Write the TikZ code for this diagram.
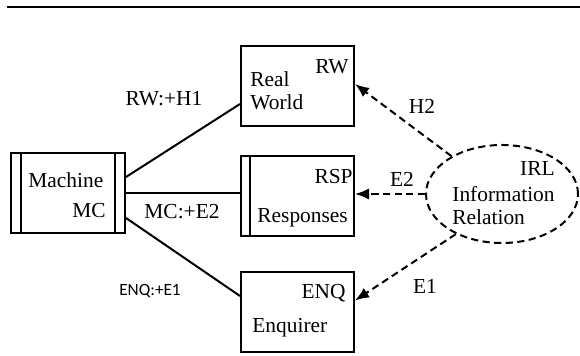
\documentclass[tikz,border=0pt]{standalone}
\usepackage{fontspec}
\setmainfont{Liberation Serif}
\newfontfamily\labelsans{Carlito}
\usetikzlibrary{shapes.geometric,arrows.meta,positioning,calc}

\tikzset{
    box/.style={draw, line width=1pt, minimum width=56.5pt, minimum height=40pt, inner sep=0pt},
    txt/.style={inner sep=0pt, text height=7.2pt, text depth=1.8pt},
    link/.style={line width=1pt},
    infolink/.style={line width=1pt, dash pattern=on 3.6pt off 2.2pt, -{Latex[length=7pt,width=5.6pt]}}
}

\begin{document}
\begin{tikzpicture}[x=0.5pt, y=-0.5pt, font=\rmfamily\fontsize{10.7}{11.5}\selectfont]
    \useasboundingbox (0,0) rectangle (580,356);
    \draw [line width=0.8pt] (7,7) -- (580,7);

    % Machine
    \node [box, minimum width=57pt] (mc) at (68,193.5) {};
    \draw [link] ([xshift=5.5pt]mc.north west) -- ([xshift=5.5pt]mc.south west);
    \draw [link] ([xshift=-5.5pt]mc.north east) -- ([xshift=-5.5pt]mc.south east);
    \node [txt, anchor=west] (mcname) at (28,182) {Machine};
    \node [txt, anchor=east] (mctag) at (106,212) {MC};

    % Real World
    \node [box] (rw) at (297.5,86) {};
    \node [inner sep=0pt, anchor=west, align=left] (rwname) at (250,90.5) {Real\\World};
    \node [txt, anchor=east] (rwtag) at (349,68) {RW};

    % Responses
    \node [box] (rsp) at (297.5,196) {};
    \draw [link] ([xshift=5pt]rsp.north west) -- ([xshift=5pt]rsp.south west);
    \node [txt, anchor=east] (rsptag) at (353,178) {RSP};
    \node [txt, anchor=west] (rspname) at (257,217) {Responses};

    % Enquirer
    \node [box] (enq) at (297.5,312.5) {};
    \node [txt, anchor=east] (enqtag) at (346,293) {ENQ};
    \node [txt, anchor=west] (enqname) at (252,327) {Enquirer};

    % Information relation
    \node [draw, ellipse, line width=1pt, dash pattern=on 3.6pt off 2.2pt, minimum width=76pt, minimum height=49pt, inner sep=0pt] (irl) at (502,194) {};
    \node [txt, anchor=east] (irltag) at (555,170) {IRL};
    \node [inner sep=0pt, anchor=west, align=left] (irlname) at (452,205.5) {Information\\Relation};

    % machine links
    \draw [link] ([yshift=8.25pt]mc.east) -- ([yshift=-9pt]rw.west);
    \draw [link] (mc.east) -- (mc.east -| rsp.west);
    \draw [link] ([yshift=-12.25pt]mc.east) -- ([yshift=8.25pt]enq.west);
    \node [txt] (lrw) at (164,100) {RW:+H1};
    \node [txt] (lmc) at (182,213) {MC:+E2};
    \node [txt, font=\labelsans\fontsize{8.6}{10}\selectfont] (lenq) at (150,290) {ENQ:+E1};

    % information links
    \draw [infolink] (irl) -- ([yshift=1pt]rw.east);
    \draw [infolink] (irl.west) -- (irl.west -| rsp.east);
    \draw [infolink] (irl.221) -- ([yshift=6pt]enq.east);
    \node [txt] (lh) at (422,108) {H2};
    \node [txt] (le2) at (402,181) {E2};
    \node [txt] (le1) at (425,288) {E1};
\end{tikzpicture}
\end{document}
